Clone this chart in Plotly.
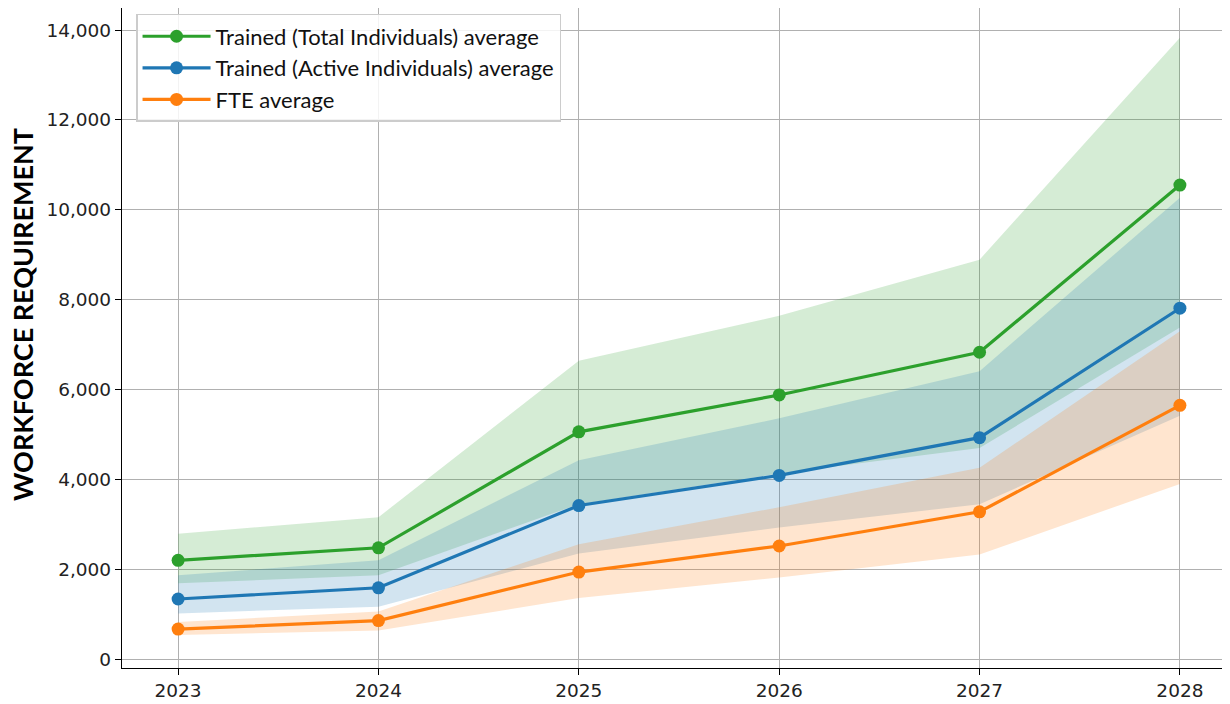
import plotly.graph_objects as go

years = [2023, 2024, 2025, 2026, 2027, 2028]

total_avg = [2200, 2480, 5060, 5880, 6830, 10550]
total_low = [1690, 1870, 3450, 4130, 4700, 7380]
total_high = [2790, 3160, 6640, 7640, 8890, 13830]

active_avg = [1340, 1590, 3420, 4090, 4930, 7810]
active_low = [1020, 1170, 2350, 2930, 3450, 5420]
active_high = [1870, 2200, 4430, 5360, 6410, 10270]

fte_avg = [670, 860, 1940, 2520, 3280, 5650]
fte_low = [540, 640, 1360, 1820, 2330, 3900]
fte_high = [830, 1060, 2560, 3380, 4260, 7300]

series = [
    ("Trained (Total Individuals) average", total_avg, total_low, total_high, "#2ca02c", "rgba(44,160,44,0.2)"),
    ("Trained (Active Individuals) average", active_avg, active_low, active_high, "#1f77b4", "rgba(31,119,180,0.2)"),
    ("FTE average", fte_avg, fte_low, fte_high, "#ff7f0e", "rgba(255,127,14,0.2)"),
]

fig = go.Figure()

# shaded ranges first
for name, avg, low, high, col, fillcol in series:
    fig.add_trace(go.Scatter(
        x=years + years[::-1], y=high + low[::-1],
        fill="toself", fillcolor=fillcol, line=dict(width=0),
        mode="lines", hoverinfo="skip", showlegend=False))

for name, avg, low, high, col, fillcol in series:
    fig.add_trace(go.Scatter(
        x=years, y=avg, name=name, mode="lines+markers",
        line=dict(color=col, width=3.2),
        marker=dict(color=col, size=13)))

fig.update_layout(
    width=1230, height=704,
    margin=dict(l=114, r=10, t=0, b=44),
    paper_bgcolor="white", plot_bgcolor="white",
    font=dict(family="DejaVu Sans", size=18.5, color="#222222"),
    legend=dict(
        x=0.0127, y=0.991, xanchor="left", yanchor="top",
        bgcolor="rgba(255,255,255,0.85)", bordercolor="#cccccc", borderwidth=1.5,
        font=dict(family="Lato", size=22, color="#111111"),
        itemwidth=68,
    ),
)

# y axis title placed as annotation (it sits a little above centre in the original)
fig.add_annotation(
    text="WORKFORCE REQUIREMENT", textangle=-90, showarrow=False,
    xref="paper", yref="paper", x=-0.0895, y=0.535,
    xanchor="center", yanchor="middle",
    font=dict(family="Lato", size=27, color="black", weight="bold"),
)

fig.update_xaxes(
    range=[2022.72, 2028.24], tickvals=years, ticktext=[str(y) for y in years],
    showgrid=True, gridcolor="#b0b0b0", gridwidth=1,
    showline=True, linecolor="black", linewidth=1.3, mirror=True,
    ticks="outside", ticklen=6, tickcolor="black", zeroline=False,
)
fig.update_yaxes(
    range=[-195, 14490], dtick=2000, tickformat=",",
    showgrid=True, gridcolor="#b0b0b0", gridwidth=1,
    showline=True, linecolor="black", linewidth=1.3, mirror=True,
    ticks="outside", ticklen=6, tickcolor="black", zeroline=False,
)

fig.write_html("out.html")
